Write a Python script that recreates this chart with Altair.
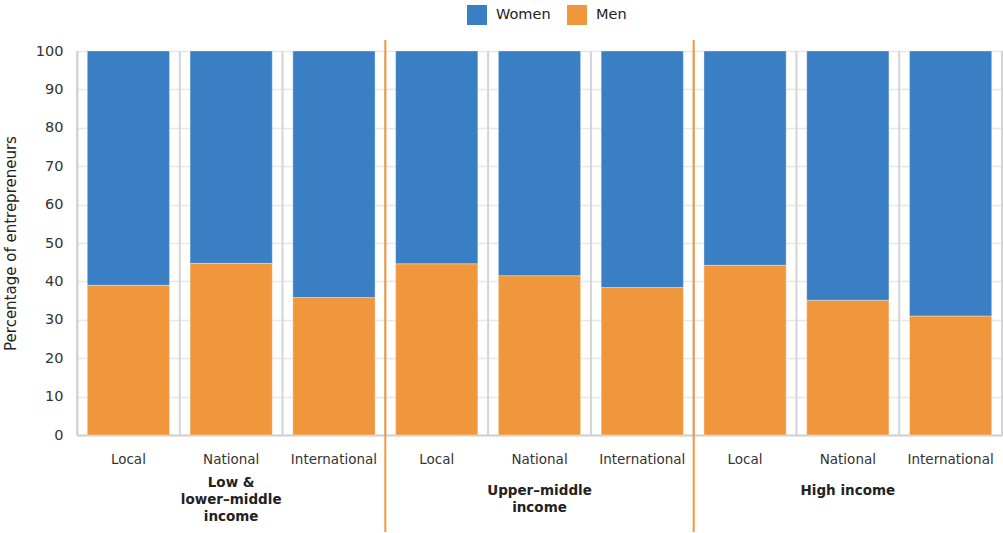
import altair as alt
import pandas as pd

# Source values: share of entrepreneurs by sex, market scope and country income group
groups = ["Low &\nlower–middle\nincome", "Upper–middle\nincome", "High income"]
markets = ["Local", "National", "International"]
men = [39.0, 44.7, 35.8, 44.6, 41.5, 38.4, 44.2, 35.1, 31.0]
women = [61.0, 55.3, 64.2, 55.4, 58.5, 61.6, 55.8, 64.9, 69.0]
sexes = ["Women", "Men"]
colors = ["#3a7fc3", "#f0963c"]
y_ticks = list(range(0, 101, 10))

FONT = "DejaVu Sans"
W, H = 925, 384
PAD_INNER, PAD_OUTER = 0.2, 0.1
step = W / (len(groups) * len(markets) + 2 * PAD_OUTER - PAD_INNER)
half_gap = step * PAD_INNER / 2

rows = []
keys = []
for gi, g in enumerate(groups):
    for mi, m in enumerate(markets):
        k = f"{gi}|{m}"
        keys.append(k)
        i = gi * len(markets) + mi
        rows.append({"key": k, "sex": "Men", "value": men[i], "ord": 0})
        rows.append({"key": k, "sex": "Women", "value": women[i], "ord": 1})
df = pd.DataFrame(rows)

grp_df = pd.DataFrame({
    "key": [f"{gi}|{markets[1]}" for gi in range(len(groups))],
    "label": groups,
    "gi": list(range(len(groups))),
})
sep_df = pd.DataFrame({"key": [f"{gi}|{markets[0]}" for gi in range(1, len(groups))]})
cell_df = pd.DataFrame({"key": keys})
end_df = pd.DataFrame({"key": [keys[-1]]})

x_scale = alt.Scale(domain=keys, paddingInner=PAD_INNER, paddingOuter=PAD_OUTER)
x_axis = alt.Axis(title=None, labelExpr="split(datum.label, '|')[1]", bandPosition=0.5,
                  grid=False, ticks=False, domainColor="#d0d0d0", domainWidth=2,
                  labelPadding=17, labelFontSize=13.5, labelColor="#333333",
                  labelFont=FONT, labelAngle=0, labelAlign="center", labelBaseline="top")


def x_at(band_pos=None):
    if band_pos is None:
        return alt.X("key:N", scale=x_scale, sort=keys, axis=x_axis)
    return alt.X("key:N", scale=x_scale, sort=keys, axis=x_axis, bandPosition=band_pos)


bars = alt.Chart(df).mark_bar(stroke="#ffffff", strokeOpacity=0.35, strokeWidth=1).encode(
    x=x_at(),
    y=alt.Y("value:Q", stack="zero",
            scale=alt.Scale(domain=[0, 100], nice=False),
            axis=alt.Axis(values=y_ticks, title="Percentage of entrepreneurs",
                          ticks=False, domainColor="#d0d0d0", domainWidth=2,
                          gridColor="#e8e8e8", gridWidth=1.5,
                          labelPadding=14, labelFontSize=14.5, labelColor="#333333",
                          labelFont=FONT,
                          titleFont=FONT, titleFontSize=15, titleFontWeight="normal",
                          titleColor="#222222", titleX=-67, titleY=H / 2,
                          titleAngle=270, titleAlign="center", titleBaseline="middle")),
    color=alt.Color("sex:N", scale=alt.Scale(domain=sexes, range=colors),
                    legend=alt.Legend(title=None, orient="none", direction="horizontal",
                                      legendX=390, legendY=-46, symbolType="square",
                                      symbolSize=400, symbolStrokeWidth=0,
                                      labelFontSize=14.5, labelFont=FONT, labelColor="#222222",
                                      labelOffset=9, columnPadding=16, padding=0)),
    order=alt.Order("ord:Q"),
)

# light vertical dividers between bar cells
cell_lines = alt.Chart(cell_df).mark_rule(color="#d4d4d4", strokeWidth=2, xOffset=-half_gap).encode(
    x=x_at(0), y=alt.value(0), y2=alt.value(H),
)
end_line = alt.Chart(end_df).mark_rule(color="#d4d4d4", strokeWidth=2, xOffset=half_gap).encode(
    x=x_at(1), y=alt.value(0), y2=alt.value(H),
)

# orange dividers between income groups
seps = alt.Chart(sep_df).mark_rule(color="#f0963c", strokeWidth=2, xOffset=-half_gap).encode(
    x=x_at(0), y=alt.value(-11), y2=alt.value(481),
)

grp_text = dict(lineBreak="\n", fontWeight="bold", fontSize=13.5, font=FONT,
                color="#222222", align="center", baseline="alphabetic", lineHeight=17)
grp_first = alt.Chart(grp_df).transform_filter("datum.gi == 0").mark_text(**grp_text).encode(
    x=x_at(), y=alt.value(436), text="label:N",
)
grp_rest = alt.Chart(grp_df).transform_filter("datum.gi > 0").mark_text(**grp_text).encode(
    x=x_at(), y=alt.value(444), text="label:N",
)

chart = alt.layer(bars, cell_lines, end_line, seps, grp_first, grp_rest).properties(
    width=W, height=H,
    autosize=alt.AutoSizeParams(type="none"),
    padding={"left": 77, "top": 51, "right": 1, "bottom": 98},
).configure_view(stroke=None).configure(background="white")

chart.save("out.html", embed_options={"renderer": "svg", "actions": False})
